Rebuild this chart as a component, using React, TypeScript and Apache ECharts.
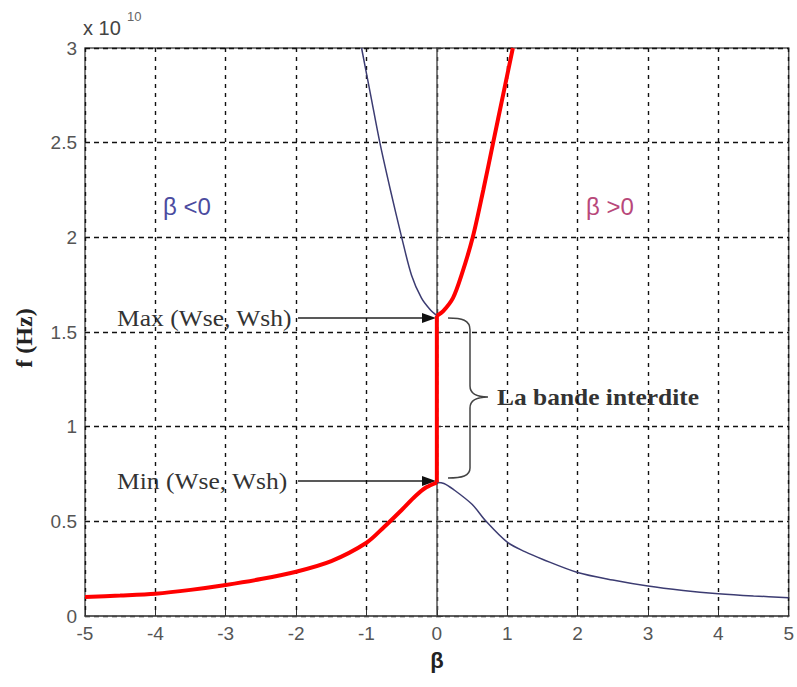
import React, { useEffect, useRef } from "react";
import * as echarts from "echarts";

// β values and frequency in units of 1e10 Hz
const redLower: [number, number][] = [
  [-5, 0.1], [-4.5, 0.108], [-4, 0.118], [-3.5, 0.138], [-3, 0.164], [-2.5, 0.195],
  [-2, 0.234], [-1.5, 0.29], [-1, 0.387], [-0.75, 0.47], [-0.5, 0.56], [-0.3, 0.635],
  [-0.15, 0.68], [0, 0.705],
];
const redGap: [number, number][] = [[0, 0.705], [0, 1.586]];
const redUpper: [number, number][] = [
  [0, 1.586], [0.09, 1.61], [0.23, 1.68], [0.35, 1.8], [0.51, 2.0], [0.66, 2.25],
  [0.8, 2.5], [0.94, 2.75], [1.08, 3.0],
];
const blueUpper: [number, number][] = [
  [-1.07, 3.0], [-0.94, 2.75], [-0.81, 2.5], [-0.66, 2.25], [-0.5, 2.0], [-0.36, 1.8],
  [-0.22, 1.68], [-0.1, 1.62], [0, 1.586],
];
const blueLower: [number, number][] = [
  [0, 0.705], [0.1, 0.7], [0.23, 0.67], [0.5, 0.59], [0.7, 0.5], [1, 0.39], [1.25, 0.34],
  [1.5, 0.3], [2, 0.23], [2.5, 0.19], [3, 0.158], [3.5, 0.135], [4, 0.118], [4.5, 0.106],
  [5, 0.097],
];

const SERIF = '"Liberation Serif", "Times New Roman", serif';
const SANS = '"Liberation Sans", Arial, sans-serif';

echarts.graphic.registerShape(
  "brace",
  echarts.graphic.extendPath(
    "M448,318 C462,318 470,320 470,330 L470,386 C470,393 476,397 488,397 C476,397 470,401 470,408 L470,468 C470,476 462,478 448,478",
    {}
  )
);

export default function App() {
  const ref = useRef<HTMLDivElement>(null);
  useEffect(() => {
    if (!ref.current) return;
    const chart = echarts.init(ref.current, null, { renderer: "svg" });
    const blue = "#3c3c72";
    const red = "#ff0000";
    const mkLine = (data: [number, number][], color: string, width: number, smooth: number | boolean) => ({
      type: "line",
      data,
      smooth,
      showSymbol: false,
      symbol: "none",
      lineStyle: { color, width },
      z: color === red ? 4 : 3,
    });
    chart.setOption({
      animation: false,
      backgroundColor: "#ffffff",
      grid: {
        left: 85, right: 7, top: 48, bottom: 71, show: true,
        borderColor: "#555", borderWidth: 1.5, backgroundColor: "transparent",
      },
      xAxis: {
        type: "value", min: -5, max: 5, interval: 1,
        axisLine: { show: true, lineStyle: { color: "#555", width: 1.5 } },
        axisTick: { show: true, inside: true, length: 6, lineStyle: { color: "#333" } },
        axisLabel: { color: "#555", fontSize: 19, fontFamily: SANS, margin: 8 },
        splitLine: { show: true, lineStyle: { color: "#111", type: [4, 5], width: 1.4 } },
      },
      yAxis: {
        type: "value", min: 0, max: 3, interval: 0.5,
        axisLine: { show: true, lineStyle: { color: "#555", width: 1.5 } },
        axisTick: { show: true, inside: true, length: 6, lineStyle: { color: "#333" } },
        axisLabel: { color: "#555", fontSize: 19, fontFamily: SANS, margin: 8 },
        splitLine: { show: true, lineStyle: { color: "#111", type: [5, 4], width: 1.4 } },
      },
      series: [
        mkLine(blueUpper, blue, 1.5, 0.3),
        mkLine(blueLower, blue, 1.5, 0.3),
        mkLine(redLower, red, 4, 0.3),
        mkLine(redGap, red, 4, false),
        mkLine(redUpper, red, 4, 0.3),
      ],
      graphic: [
        { type: "text", x: 83, y: 28, style: { text: "x 10", fontSize: 20, fontFamily: SANS, fill: "#444", verticalAlign: "middle" } },
        { type: "text", x: 127, y: 16, style: { text: "10", fontSize: 13, fontFamily: SANS, fill: "#666", verticalAlign: "middle" } },
        { type: "text", x: 163, y: 206, style: { text: "β <0", fontSize: 24, fontFamily: SANS, fill: "#4b4ba0", verticalAlign: "middle" } },
        { type: "text", x: 586, y: 206, style: { text: "β >0", fontSize: 24, fontFamily: SANS, fill: "#b8487a", verticalAlign: "middle" } },
        { type: "text", x: 117, y: 318, scaleX: 1.11, style: { text: "Max (Wse, Wsh)", fontSize: 23, fontFamily: SERIF, fill: "#333", verticalAlign: "middle" } },
        { type: "text", x: 117, y: 481, scaleX: 1.11, style: { text: "Min (Wse, Wsh)", fontSize: 23, fontFamily: SERIF, fill: "#333", verticalAlign: "middle" } },
        { type: "line", shape: { x1: 298, y1: 318, x2: 426, y2: 318 }, style: { stroke: "#222", lineWidth: 1.5 } },
        { type: "polygon", shape: { points: [[422, 313], [436, 318], [422, 323]] }, style: { fill: "#111" } },
        { type: "line", shape: { x1: 298, y1: 481, x2: 426, y2: 481 }, style: { stroke: "#222", lineWidth: 1.5 } },
        { type: "polygon", shape: { points: [[422, 476], [436, 481], [422, 486]] }, style: { fill: "#111" } },
        { type: "brace", style: { stroke: "#444", lineWidth: 1.5, fill: "none" } },
        { type: "text", x: 497, y: 397, scaleX: 1.06, style: { text: "La bande interdite", fontSize: 24, fontWeight: "bold", fontFamily: SERIF, fill: "#333", verticalAlign: "middle" } },
        { type: "text", x: 24, y: 338, rotation: Math.PI / 2, style: { text: "f (Hz)", fontSize: 24, fontWeight: "bold", fontFamily: SERIF, fill: "#222", align: "center", verticalAlign: "middle" } },
        { type: "text", x: 437, y: 660, style: { text: "β", fontSize: 22, fontWeight: "bold", fontFamily: SANS, fill: "#222", align: "center", verticalAlign: "middle" } },
      ],
    });
    return () => chart.dispose();
  }, []);
  return <div ref={ref} style={{ position: "absolute", left: 0, top: 0, width: 797, height: 687 }} />;
}
